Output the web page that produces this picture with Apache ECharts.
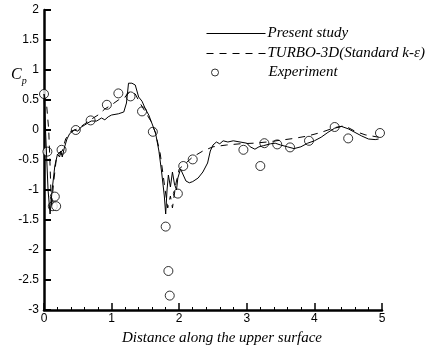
<!DOCTYPE html>
<html><head><meta charset="utf-8">
<script src="https://cdn.jsdelivr.net/npm/echarts@6/dist/echarts.min.js"></script>
<style>html,body{margin:0;padding:0;background:#fff}#c{width:436px;height:351px}</style>
</head><body><div id="c"></div>
<script>
const xTicks = [0, 1, 2, 3, 4, 5];
const yTicks = [-3, -2.5, -2, -1.5, -1, -0.5, 0, 0.5, 1, 1.5, 2];
const seriesNames = ['Present study', 'TURBO-3D(Standard k-ε)', 'Experiment'];

const presentStudy = [
[0,0.6],[0.03,-0.2],[0.06,-1.0],[0.09,-1.4],[0.12,-1.0],[0.16,-0.6],[0.2,-0.4],[0.23,-0.45],[0.25,-0.35],[0.27,-0.45],[0.3,-0.3],
[0.34,-0.15],[0.38,-0.06],[0.45,0.0],[0.5,-0.02],[0.55,0.05],[0.6,0.08],[0.65,0.12],[0.7,0.15],[0.78,0.15],[0.85,0.2],[0.9,0.17],
[0.95,0.22],[1.0,0.25],[1.1,0.27],[1.18,0.3],[1.22,0.45],[1.25,0.78],[1.3,0.78],[1.35,0.75],[1.4,0.55],[1.45,0.48],[1.5,0.35],
[1.55,0.25],[1.6,0.1],[1.65,-0.05],[1.7,-0.35],[1.74,-0.7],[1.78,-1.1],[1.8,-1.4],[1.82,-1.0],[1.84,-0.75],[1.87,-0.95],[1.9,-0.7],
[1.93,-0.9],[1.96,-1.0],[1.98,-0.8],[2.02,-0.65],[2.06,-0.75],[2.1,-0.85],[2.15,-0.88],[2.2,-0.86],[2.28,-0.8],[2.35,-0.7],
[2.42,-0.55],[2.46,-0.35],[2.5,-0.25],[2.55,-0.2],[2.6,-0.23],[2.65,-0.18],[2.72,-0.2],[2.8,-0.18],[2.9,-0.2],[3.0,-0.22],
[3.05,-0.28],[3.12,-0.32],[3.18,-0.28],[3.25,-0.26],[3.35,-0.23],[3.42,-0.22],[3.5,-0.25],[3.6,-0.28],[3.7,-0.31],[3.8,-0.28],
[3.9,-0.22],[4.0,-0.18],[4.1,-0.12],[4.2,-0.04],[4.3,0.03],[4.4,0.06],[4.5,0.02],[4.6,-0.04],[4.7,-0.1],[4.8,-0.15],[4.9,-0.16],[4.95,-0.15]
];

const turbo3d = [
[0,0.6],[0.04,0.4],[0.07,0.0],[0.09,-0.6],[0.11,-1.3],[0.14,-0.9],[0.18,-0.5],[0.22,-0.38],[0.27,-0.35],[0.32,-0.15],[0.4,-0.02],
[0.5,0.02],[0.6,0.1],[0.7,0.18],[0.8,0.25],[0.9,0.35],[1.0,0.42],[1.1,0.5],[1.2,0.55],[1.28,0.65],[1.35,0.6],[1.42,0.45],
[1.5,0.3],[1.58,0.15],[1.65,-0.05],[1.72,-0.4],[1.78,-0.9],[1.83,-1.3],[1.87,-1.1],[1.9,-1.3],[1.95,-0.9],[2.0,-0.65],
[2.1,-0.55],[2.2,-0.45],[2.35,-0.35],[2.5,-0.28],[2.7,-0.25],[2.9,-0.23],[3.1,-0.22],[3.3,-0.2],[3.5,-0.17],[3.7,-0.14],
[3.9,-0.1],[4.1,-0.04],[4.3,0.04],[4.45,0.07],[4.6,-0.02],[4.75,-0.08],[4.95,-0.12]
];

const experiment = [
[0.0,0.6],[0.05,-0.36],[0.13,-1.27],[0.18,-1.27],[0.16,-1.11],[0.26,-0.33],[0.47,0.0],[0.69,0.16],[0.93,0.42],[1.1,0.61],
[1.28,0.56],[1.45,0.31],[1.61,-0.03],[1.8,-1.61],[1.84,-2.35],[1.86,-2.76],[1.98,-1.06],[2.06,-0.6],[2.2,-0.49],
[2.95,-0.33],[3.2,-0.6],[3.26,-0.22],[3.45,-0.24],[3.64,-0.29],[3.92,-0.18],[4.3,0.05],[4.5,-0.14],[4.97,-0.05]
];

const chart = echarts.init(document.getElementById('c'), null, {renderer: 'canvas'});
const serif = '"Liberation Serif", "Times New Roman", serif';
const sans = '"Liberation Sans", Arial, sans-serif';
const legendText = {fontFamily: serif, fontStyle: 'italic', fontSize: 15, color: '#000'};
chart.setOption({
  animation: false,
  backgroundColor: '#fff',
  grid: {left: 44, right: 54, top: 10, bottom: 32},
  legend: [{
    orient: 'vertical', left: 206, top: 26, itemGap: 5, itemWidth: 59, itemHeight: 12, padding: 0,
    lineStyle: {width: 1},
    textStyle: Object.assign({padding: [0,0,0,-3]}, legendText),
    data: [
      {name: seriesNames[0], itemStyle: {opacity: 0}},
      {name: seriesNames[1], itemStyle: {opacity: 0}}
    ]
  }, {
    orient: 'vertical', left: 211, top: 65, itemWidth: 7, itemHeight: 7, padding: 0,
    itemStyle: {borderWidth: 1},
    textStyle: Object.assign({padding: [0,0,0,45]}, legendText),
    data: [seriesNames[2]]
  }],
  xAxis: {
    type: 'value', min: xTicks[0], max: xTicks[xTicks.length-1], interval: 1,
    name: 'Distance along the upper surface', nameLocation: 'middle', nameGap: 21,
    nameTextStyle: {fontFamily: serif, fontStyle: 'italic', fontSize: 15, color: '#000', padding: [0,0,0,18]},
    axisLine: {onZero: false, lineStyle: {color: '#000', width: 2.5}},
    axisTick: {inside: true, length: 7, lineStyle: {color: '#000', width: 1.5}},
    minorTick: {show: true, splitNumber: 5, length: 3, lineStyle: {color: '#000', width: 1}},
    axisLabel: {fontFamily: sans, fontSize: 12, color: '#000', margin: 3},
    splitLine: {show: false}
  },
  yAxis: {
    type: 'value', min: yTicks[0], max: yTicks[yTicks.length-1], interval: 0.5,
    axisLine: {show: true, onZero: false, lineStyle: {color: '#000', width: 2.5}},
    axisTick: {show: true, inside: true, length: 7, lineStyle: {color: '#000', width: 2}},
    axisLabel: {fontFamily: sans, fontSize: 12, color: '#000', margin: 5},
    splitLine: {show: false}
  },
  graphic: [{
    type: 'text', left: 11, top: 67,
    style: {
      text: '{c|C}{p|p}',
      rich: {
        c: {fontFamily: serif, fontStyle: 'italic', fontSize: 16, fill: '#000'},
        p: {fontFamily: serif, fontStyle: 'italic', fontSize: 10, fill: '#000', padding: [12,0,0,0]}
      }
    }
  }],
  series: [
    {name: seriesNames[0], type: 'line', data: presentStudy, symbol: 'none',
     lineStyle: {color: '#000', width: 1}, itemStyle: {color: '#000'}},
    {name: seriesNames[1], type: 'line', data: turbo3d, symbol: 'none',
     lineStyle: {color: '#000', width: 1, type: [7, 6]}, itemStyle: {color: '#000'}},
    {name: seriesNames[2], type: 'scatter', data: experiment, symbol: 'circle', symbolSize: 9,
     itemStyle: {color: '#fff', borderColor: '#000', borderWidth: 1}}
  ]
});
</script></body></html>
